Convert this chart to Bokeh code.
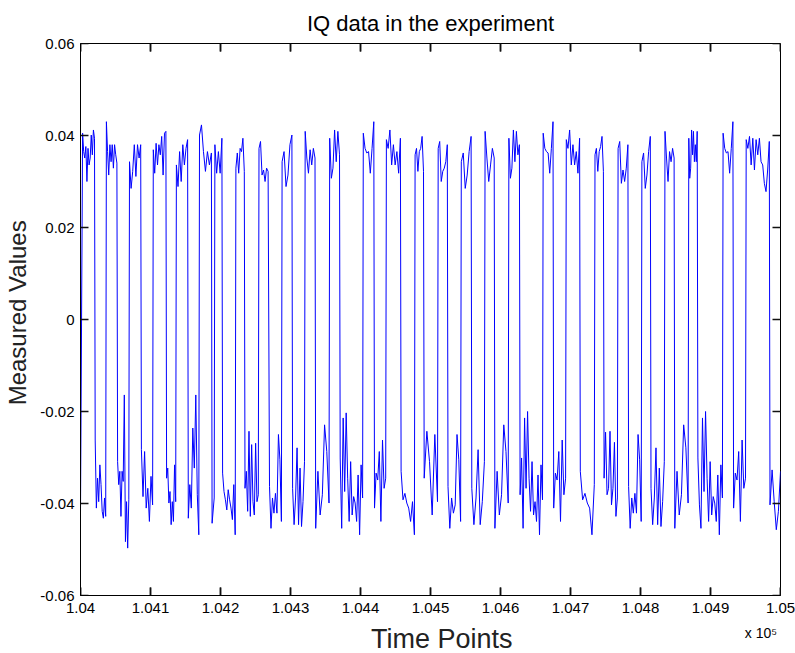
import numpy as np
from bokeh.plotting import figure
from bokeh.models import LinearAxis, FixedTicker, Range1d
from bokeh.embed import file_html
from bokeh.resources import INLINE

# Segments of the IQ trace: start time, end time
seg_start = [104000, 104003, 104021, 104037, 104053, 104070, 104087, 104104, 104123, 104137,
             104154, 104170, 104188, 104192, 104203, 104222, 104235, 104255, 104270, 104288,
             104303, 104321, 104336, 104356, 104371, 104404, 104420, 104437, 104458, 104478,
             104491, 104511, 104525, 104544, 104559, 104578, 104592, 104612, 104628, 104661,
             104676, 104694, 104714, 104735, 104748, 104768, 104783, 104802, 104815, 104835,
             104849, 104869, 104882, 104918, 104933, 104951, 104985]
seg_end = [104000, 104020, 104036, 104052, 104069, 104086, 104103, 104122, 104136, 104153,
           104169, 104187, 104191, 104202, 104221, 104234, 104254, 104268, 104287, 104302,
           104320, 104335, 104355, 104370, 104403, 104419, 104436, 104457, 104477, 104490,
           104510, 104524, 104543, 104558, 104577, 104591, 104611, 104627, 104660, 104675,
           104693, 104713, 104734, 104747, 104767, 104782, 104801, 104814, 104834, 104848,
           104868, 104881, 104917, 104932, 104950, 104984, 105000]
seg_vals = [
    [-0.042],
    [0.0405, 0.0365, 0.0351, 0.0376, 0.0300, 0.0372, 0.0336, 0.0351, 0.0401, 0.0358, 0.0412, 0.0394],
    [-0.0262, -0.0410, -0.0345, -0.0396, -0.0316, -0.0359, -0.0417, -0.0432, -0.0388, -0.0428],
    [0.0430, 0.0365, 0.0314, 0.0380, 0.0343, 0.0380, 0.0329, 0.0380, 0.0358, 0.0340],
    [-0.0309, -0.0359, -0.0330, -0.0428, -0.0330, -0.0352, -0.0164, -0.0483, -0.0396, -0.0497, -0.0392],
    [0.0343, 0.0285, 0.0322, 0.0380, 0.0311, 0.0380, 0.0351, 0.0380],
    [-0.0283, -0.0385, -0.0287, -0.0410, -0.0367, -0.0439, -0.0341, -0.0403],
    [0.0369, 0.0318, 0.0383, 0.0336, 0.0380, 0.0358, 0.0398, 0.0314, 0.0405, 0.0409],
    [-0.0345, -0.0323, -0.0399, -0.0374, -0.0446, -0.0396, -0.0439, -0.0316, -0.0396],
    [0.0336, 0.0289, 0.0365, 0.0300, 0.0380, 0.0336, 0.0372, 0.0391],
    [-0.0432, -0.0359, -0.0410, -0.0236, -0.0323, -0.0164, -0.0381, -0.0468],
    [0.0401, 0.0423, 0.0365, 0.0322, 0.0365, 0.0336, 0.0362],
    [-0.0443, -0.0388],
    [0.0380, 0.0318, 0.0365, 0.0318, 0.0394],
    [-0.0334, -0.0374, -0.0392, -0.0414, -0.0370, -0.0392, -0.0410, -0.0435, -0.0359, -0.0468],
    [0.0329, 0.0362, 0.0318, 0.0372, 0.0365, 0.0394, 0.0322],
    [-0.0367, -0.0330, -0.0417, -0.0243, -0.0428, -0.0272, -0.0396, -0.0425, -0.0269, -0.0396, -0.0381],
    [0.0372, 0.0387, 0.0314, 0.0325, 0.0300, 0.0329, 0.0322],
    [-0.0363, -0.0454, -0.0388, -0.0421, -0.0378, -0.0421, -0.0250, -0.0305, -0.0439],
    [0.0343, 0.0365, 0.0289, 0.0314, 0.0380, 0.0401],
    [-0.0367, -0.0446, -0.0388, -0.0279, -0.0446, -0.0323, -0.0450, -0.0396, -0.0309],
    [0.0409, 0.0351, 0.0318, 0.0369, 0.0336, 0.0372, 0.0351],
    [-0.0454, -0.0330, -0.0425, -0.0381, -0.0229, -0.0287, -0.0399],
    [0.0394, 0.0307, 0.0329, 0.0412, 0.0343, 0.0409, 0.0358],
    [-0.0301, -0.0454, -0.0214, -0.0374, -0.0203, -0.0345, -0.0439, -0.0309, -0.0425, -0.0385,
     -0.0399, -0.0439, -0.0338, -0.0468, -0.0316, -0.0388],
    [0.0405, 0.0372, 0.0362, 0.0365, 0.0318, 0.0372, 0.0430],
    [-0.0410, -0.0334, -0.0349, -0.0287, -0.0439, -0.0262, -0.0367, -0.0345],
    [0.0391, 0.0372, 0.0412, 0.0336, 0.0380, 0.0336, 0.0365, 0.0318, 0.0394],
    [-0.0330, -0.0392, -0.0378, -0.0399, -0.0410, -0.0439, -0.0396, -0.0468],
    [0.0358, 0.0372, 0.0322, 0.0365, 0.0372, 0.0398, 0.0322],
    [-0.0345, -0.0243, -0.0309, -0.0425, -0.0250, -0.0396],
    [0.0372, 0.0387, 0.0300, 0.0322, 0.0329, 0.0343, 0.0380],
    [-0.0363, -0.0454, -0.0388, -0.0421, -0.0403, -0.0250, -0.0305, -0.0439],
    [0.0343, 0.0362, 0.0285, 0.0314, 0.0365, 0.0398],
    [-0.0367, -0.0446, -0.0388, -0.0283, -0.0446, -0.0396, -0.0309],
    [0.0409, 0.0351, 0.0300, 0.0336, 0.0372, 0.0351],
    [-0.0454, -0.0330, -0.0425, -0.0381, -0.0229, -0.0287, -0.0399],
    [0.0394, 0.0307, 0.0329, 0.0412, 0.0343, 0.0409, 0.0358, 0.0380],
    [-0.0381, -0.0301, -0.0454, -0.0214, -0.0367, -0.0200, -0.0345, -0.0417, -0.0309, -0.0425,
     -0.0396, -0.0439, -0.0338, -0.0468, -0.0316, -0.0392],
    [0.0405, 0.0372, 0.0365, 0.0362, 0.0318, 0.0372, 0.0430],
    [-0.0410, -0.0334, -0.0349, -0.0287, -0.0439, -0.0262, -0.0381, -0.0345],
    [0.0391, 0.0372, 0.0412, 0.0336, 0.0380, 0.0336, 0.0365, 0.0318, 0.0394],
    [-0.0330, -0.0392, -0.0378, -0.0399, -0.0410, -0.0468, -0.0359],
    [0.0358, 0.0372, 0.0322, 0.0365, 0.0376, 0.0398, 0.0322],
    [-0.0345, -0.0245, -0.0381, -0.0367, -0.0243, -0.0403, -0.0367, -0.0267, -0.0428, -0.0388],
    [0.0372, 0.0387, 0.0296, 0.0325, 0.0300, 0.0329, 0.0380],
    [-0.0363, -0.0454, -0.0388, -0.0421, -0.0378, -0.0421, -0.0250, -0.0305, -0.0439],
    [0.0343, 0.0362, 0.0285, 0.0314, 0.0365, 0.0398],
    [-0.0367, -0.0446, -0.0388, -0.0279, -0.0446, -0.0323, -0.0450, -0.0396, -0.0309],
    [0.0409, 0.0351, 0.0300, 0.0365, 0.0343, 0.0372, 0.0351],
    [-0.0454, -0.0330, -0.0425, -0.0381, -0.0229, -0.0279, -0.0399],
    [0.0394, 0.0307, 0.0329, 0.0412, 0.0358, 0.0409, 0.0343, 0.0380, 0.0343, 0.0409],
    [-0.0301, -0.0403, -0.0454, -0.0214, -0.0374, -0.0200, -0.0345, -0.0439, -0.0309, -0.0425,
     -0.0385, -0.0399, -0.0439, -0.0338, -0.0468, -0.0316, -0.0388],
    [0.0405, 0.0372, 0.0362, 0.0365, 0.0318, 0.0372, 0.0430],
    [-0.0410, -0.0334, -0.0349, -0.0287, -0.0439, -0.0262, -0.0367, -0.0345],
    [0.0391, 0.0372, 0.0398, 0.0336, 0.0394, 0.0325, 0.0391, 0.0358, 0.0394, 0.0343,
     0.0336, 0.0296, 0.0278, 0.0325, 0.0387],
    [-0.0403, -0.0327, -0.0396, -0.0457, -0.0417, -0.0330],
]

x_ticks = [104000, 104100, 104200, 104300, 104400, 104500, 104600, 104700, 104800, 104900, 105000]
x_tick_labels = ["1.04", "1.041", "1.042", "1.043", "1.044", "1.045", "1.046", "1.047", "1.048", "1.049", "1.05"]
y_ticks = [-0.06, -0.04, -0.02, 0.0, 0.02, 0.04, 0.06]
y_tick_labels = ["-0.06", "-0.04", "-0.02", "0", "0.02", "0.04", "0.06"]
exponent_text = "x 10\u2075"

t_parts, v_parts = [], []
for s, e, vals in zip(seg_start, seg_end, seg_vals):
    t_parts.append(np.linspace(s, e, len(vals)))
    v_parts.append(np.array(vals))
t = np.concatenate(t_parts)
v = np.concatenate(v_parts)

FONT = "Liberation Sans"
X0, X1 = 104000, 105000
Y0, Y1 = -0.06, 0.06
FW, FH = 700, 552
TICK_PX = 8
tx = TICK_PX * (X1 - X0) / FW
ty = TICK_PX * (Y1 - Y0) / FH

p = figure(frame_width=FW, frame_height=FH, output_backend="svg", toolbar_location=None,
           x_range=Range1d(X0, X1), y_range=Range1d(Y0, Y1),
           min_border_left=80, min_border_right=15, min_border_top=42, min_border_bottom=59)
p.background_fill_color = "white"
p.border_fill_color = "white"
p.outline_line_color = "black"
p.outline_line_width = 1
p.xgrid.visible = False
p.ygrid.visible = False

p.line(t, v, line_color="#0000FF", line_width=1)

# inward ticks on all four sides, drawn from the tick arrays
xt = np.array(x_ticks, dtype=float)
yt = np.array(y_ticks, dtype=float)
p.segment(x0=xt, y0=np.full(len(xt), Y0), x1=xt, y1=np.full(len(xt), Y0 + ty),
          line_color="#111111", line_width=1.5)
p.segment(x0=xt, y0=np.full(len(xt), Y1), x1=xt, y1=np.full(len(xt), Y1 - ty),
          line_color="#111111", line_width=1.5)
p.segment(x0=np.full(len(yt), X0), y0=yt, x1=np.full(len(yt), X0 + tx), y1=yt,
          line_color="#111111", line_width=1.5)
p.segment(x0=np.full(len(yt), X1), y0=yt, x1=np.full(len(yt), X1 - tx), y1=yt,
          line_color="#111111", line_width=1.5)
# the bottom and top ticks again as thin rectangles
p.rect(x=xt, y=np.full(len(xt), Y0 + ty / 2), width=1.5, height=TICK_PX,
       width_units="screen", height_units="screen", fill_color="#111111", line_color=None)
p.rect(x=xt, y=np.full(len(xt), Y1 - ty / 2), width=1.5, height=TICK_PX,
       width_units="screen", height_units="screen", fill_color="#111111", line_color=None)

p.title.text = "IQ data in the experiment"
p.title.align = "center"
p.title.text_font = FONT
p.title.text_font_size = "22px"
p.title.text_font_style = "normal"
p.title.text_color = "black"
p.title.standoff = 16

def style_axis(ax):
    ax.axis_line_color = "black"
    ax.axis_line_width = 1
    ax.major_tick_in = 0
    ax.major_tick_out = 0
    ax.major_tick_line_color = None
    ax.minor_tick_line_color = None
    ax.major_label_text_font = FONT
    ax.major_label_text_font_size = "15px"
    ax.major_label_text_color = "black"

p.xaxis.ticker = FixedTicker(ticks=x_ticks)
p.xaxis.major_label_overrides = {k: s for k, s in zip(x_ticks, x_tick_labels)}
p.yaxis.ticker = FixedTicker(ticks=y_ticks)
p.yaxis.major_label_overrides = {k: s for k, s in zip(y_ticks, y_tick_labels)}
style_axis(p.xaxis[0])
style_axis(p.yaxis[0])
p.xaxis.major_label_standoff = 7
p.yaxis.major_label_standoff = 6
p.yaxis.axis_label = "\u00a0\u00a0Measured Values"
p.yaxis.axis_label_text_font = FONT
p.yaxis.axis_label_text_font_size = "24px"
p.yaxis.axis_label_text_font_style = "normal"
p.yaxis.axis_label_text_color = "#222222"
p.yaxis.axis_label_standoff = 6

# second bottom axis: carries the "x 10^5" multiplier and the axis title
exp_pos = 104972
bottom2 = LinearAxis(ticker=FixedTicker(ticks=[exp_pos]),
                     major_label_overrides={exp_pos: exponent_text})
bottom2.axis_line_color = None
bottom2.major_tick_line_color = None
bottom2.minor_tick_line_color = None
bottom2.major_tick_in = 0
bottom2.major_tick_out = 0
bottom2.major_label_text_font = FONT
bottom2.major_label_text_font_size = "14px"
bottom2.major_label_text_color = "black"
bottom2.major_label_standoff = 9
bottom2.axis_label = "\u00a0\u00a0\u00a0Time Points"
bottom2.axis_label_text_font = FONT
bottom2.axis_label_text_font_size = "27px"
bottom2.axis_label_text_font_style = "normal"
bottom2.axis_label_text_color = "#222222"
bottom2.axis_label_standoff = -20
p.add_layout(bottom2, "below")

open("out.html", "w").write(file_html(p, INLINE))
